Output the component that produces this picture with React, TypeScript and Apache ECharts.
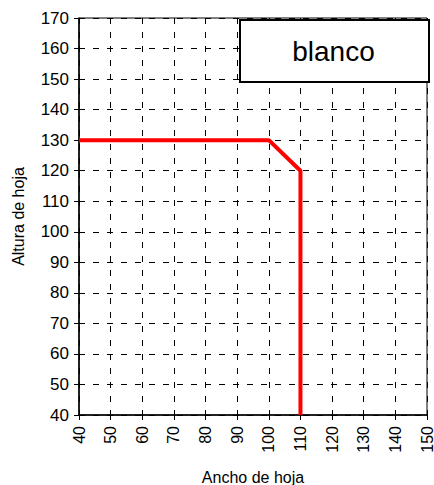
import React, { useEffect, useRef } from "react";
import * as echarts from "echarts";

const xValues = [40, 100, 110, 110];
const yValues = [130, 130, 120, 40];
const legendLabel = "blanco";
const xName = "Ancho de hoja";
const yName = "Altura de hoja";

export default function App() {
  const ref = useRef<HTMLDivElement>(null);
  useEffect(() => {
    if (!ref.current) return;
    const chart = echarts.init(ref.current, null, { renderer: "svg" });
    const font = "Liberation Sans, Arial, sans-serif";
    chart.setOption({
      animation: false,
      grid: {
        left: 79,
        right: 7,
        top: 18,
        bottom: 70,
        outerBoundsMode: "none",
        containLabel: false,
        show: true,
        borderColor: "#000",
        borderWidth: 1,
        backgroundColor: "transparent",
      },
      xAxis: {
        type: "value",
        min: 40,
        max: 150,
        interval: 10,
        name: xName,
        nameLocation: "middle",
        nameGap: 54,
        nameTextStyle: { fontFamily: font, fontSize: 16, color: "#000" },
        axisLine: { show: true, lineStyle: { color: "#000", width: 1.5 } },
        axisTick: { show: true, length: 5, lineStyle: { color: "#000" } },
        axisLabel: { rotate: 90, margin: 11, fontFamily: font, fontSize: 16, color: "#000" },
        splitLine: { show: true, lineStyle: { color: "#000", type: [6, 8], width: 1 } },
      },
      yAxis: {
        type: "value",
        min: 40,
        max: 170,
        interval: 10,
        name: yName,
        nameLocation: "middle",
        nameGap: 53,
        nameTextStyle: { fontFamily: font, fontSize: 16, color: "#000" },
        axisLine: { show: true, lineStyle: { color: "#000", width: 1.5 } },
        axisTick: { show: true, length: 5, lineStyle: { color: "#000" } },
        axisLabel: { margin: 10, fontFamily: font, fontSize: 17, color: "#000" },
        splitLine: { show: true, lineStyle: { color: "#000", type: [6, 8], width: 1 } },
      },
      series: [
        {
          type: "line",
          data: xValues.map((x, i) => [x, yValues[i]]),
          showSymbol: false,
          lineStyle: { color: "#ff0000", width: 4 },
          z: 5,
        },
      ],
      graphic: [
        {
          type: "rect",
          left: 239,
          top: 19,
          z: 100,
          shape: { x: 0, y: 0, width: 189, height: 62 },
          style: { fill: "#fff", stroke: "#000", lineWidth: 2 },
        },
        {
          type: "text",
          x: 333.5,
          y: 51,
          z: 101,
          style: {
            text: legendLabel,
            fontFamily: font,
            fontSize: 28,
            fill: "#000",
            align: "center",
            verticalAlign: "middle",
          },
        },
      ],
    });
    return () => chart.dispose();
  }, []);
  return <div ref={ref} style={{ width: 434, height: 485, position: "absolute", left: 0, top: 0 }} />;
}
